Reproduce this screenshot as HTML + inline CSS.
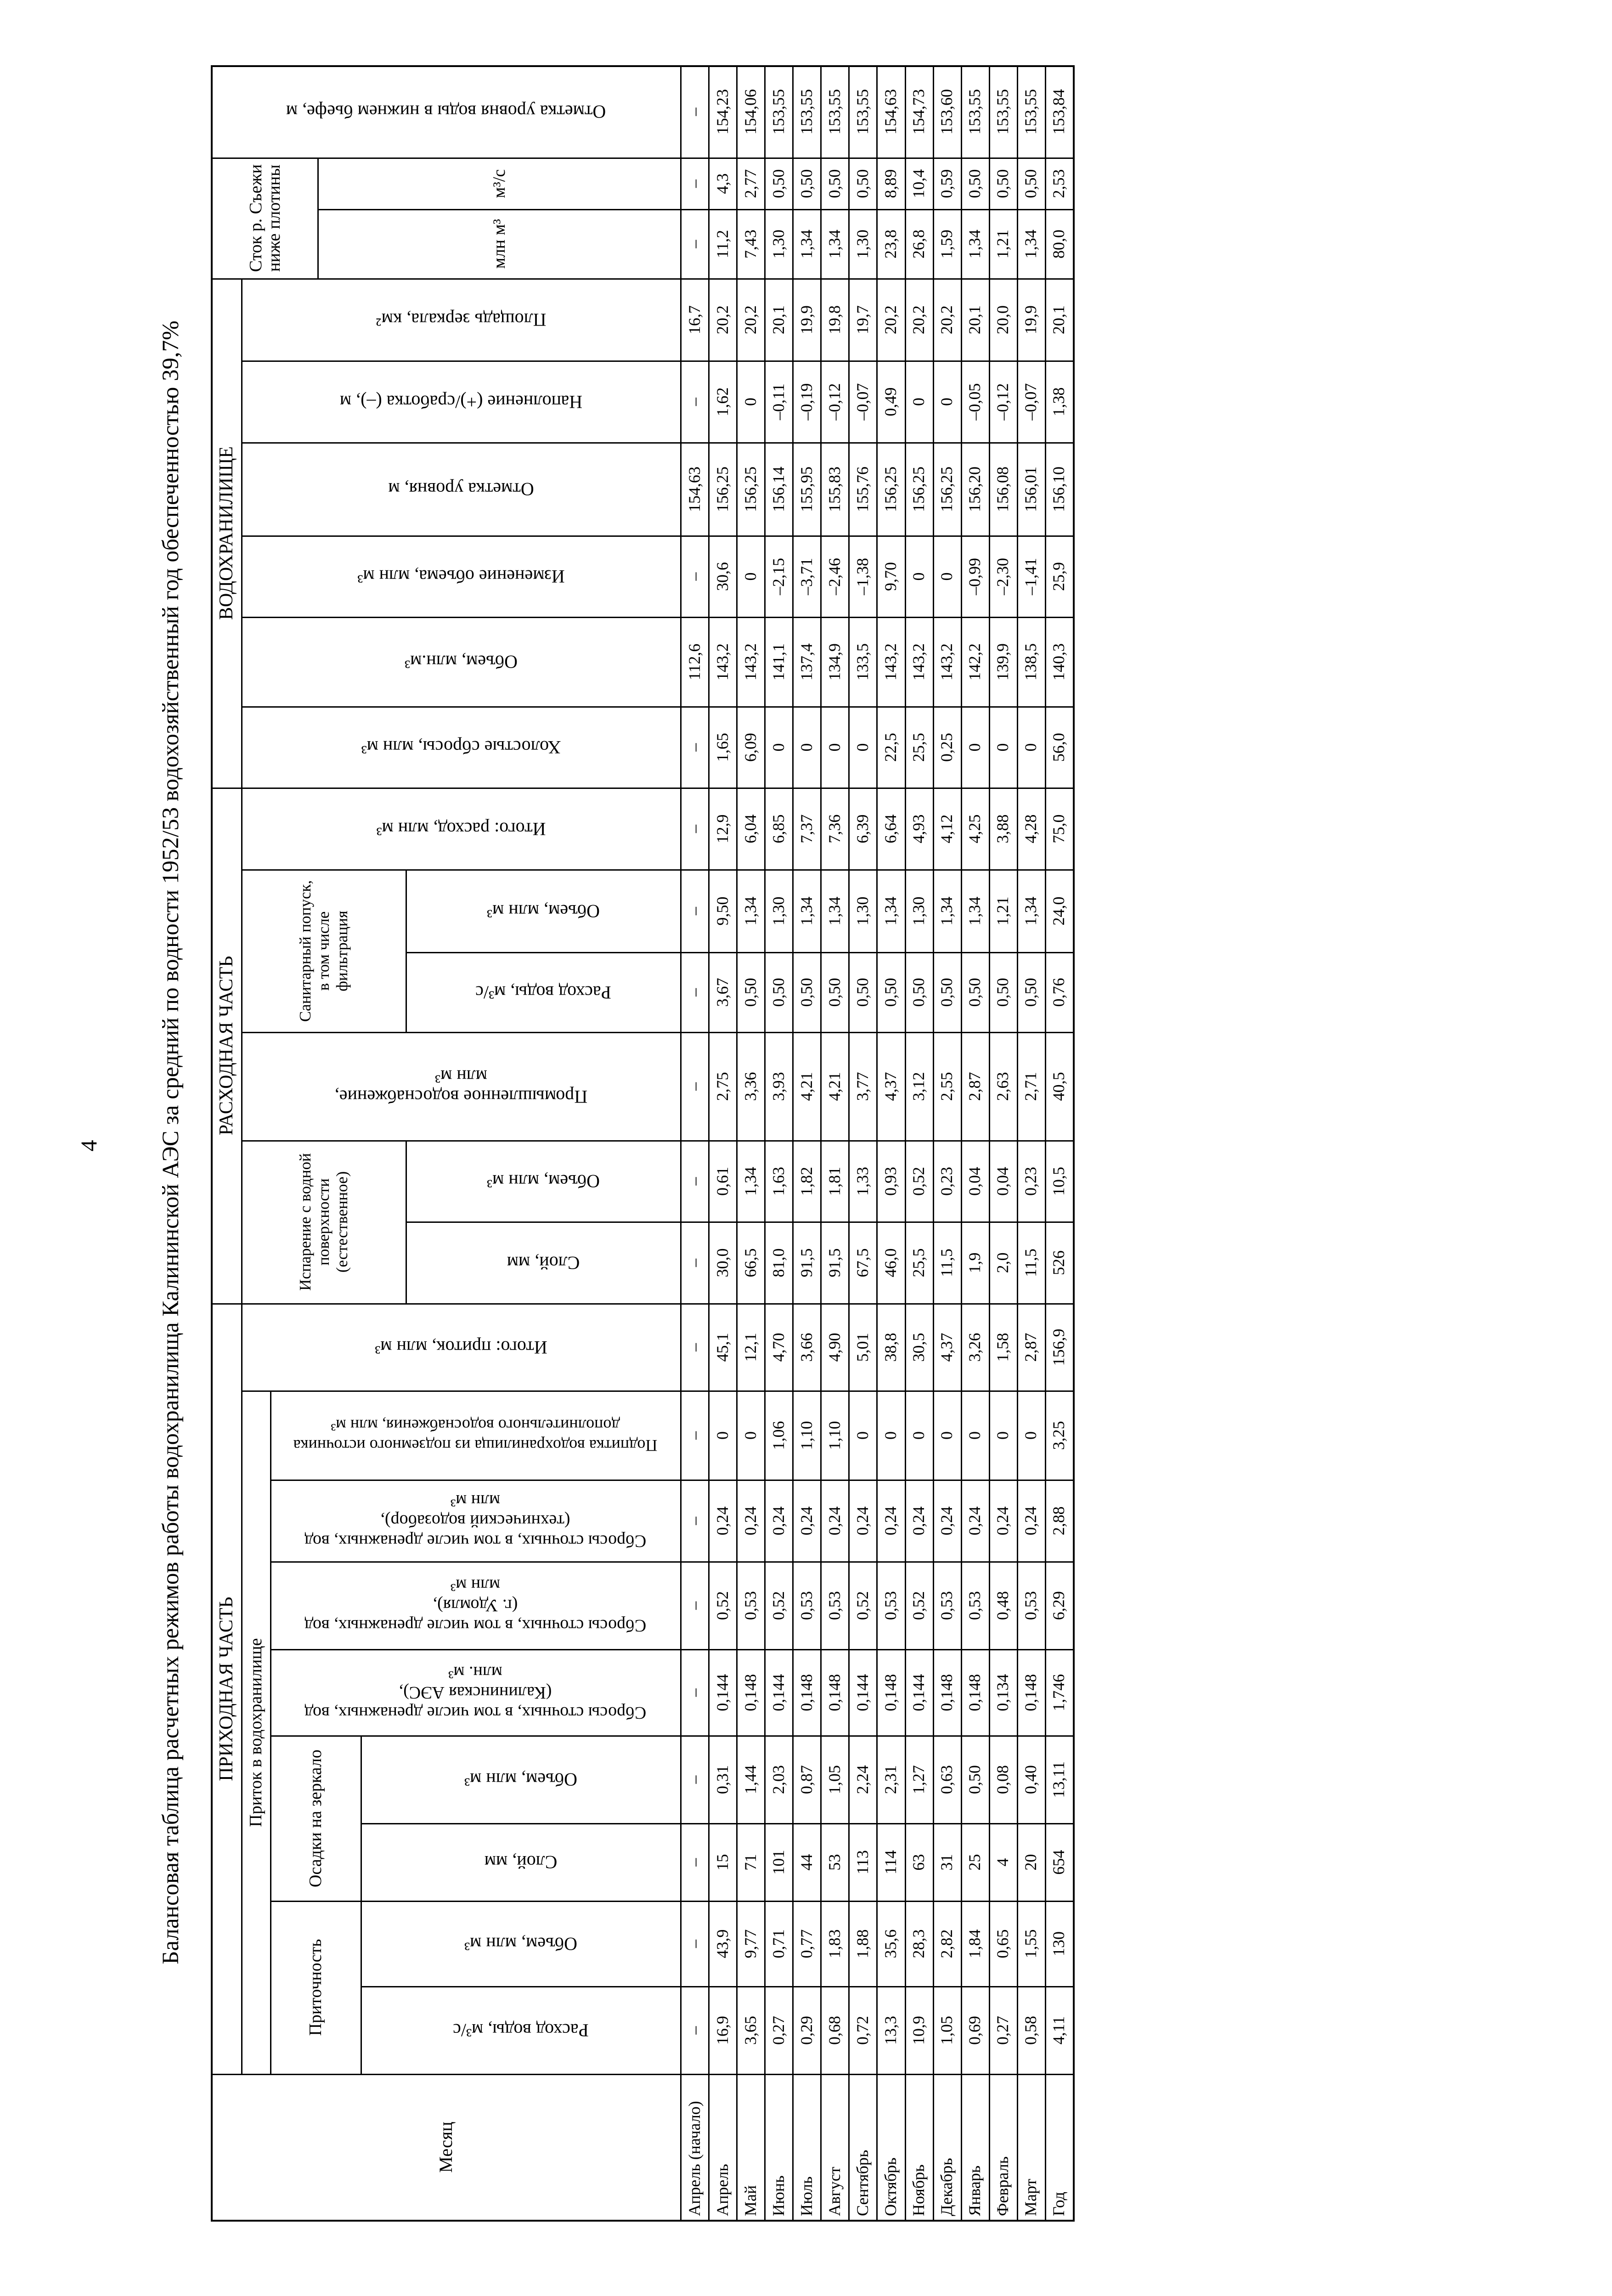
<!DOCTYPE html>
<html><head><meta charset="utf-8">
<style>
html,body{margin:0;padding:0;background:#fff;}
body{width:3510px;height:5049px;position:relative;overflow:hidden;font-family:"Liberation Serif","DejaVu Serif",serif;color:#000;}
.h{position:absolute;height:3px;background:#000;}
.v{position:absolute;width:3px;background:#000;}
.t{position:absolute;white-space:nowrap;font-size:35px;line-height:40px;text-align:center;transform:translate(-50%,-50%) rotate(-90deg);}
.u{position:absolute;white-space:nowrap;font-size:40px;line-height:44px;text-align:center;transform:translate(-50%,-50%) rotate(180deg);}
.g{font-size:42px;}
.row{position:absolute;width:4693px;height:61px;top:2459px;transform:rotate(-90deg);font-size:36px;line-height:61px;white-space:nowrap;}
.row span{display:inline-block;text-align:center;height:61px;vertical-align:top;}
.row span:nth-child(1){width:319px;text-align:left;padding-left:10px;box-sizing:border-box}
.row span:nth-child(2){width:191px}.row span:nth-child(3){width:186px}.row span:nth-child(4){width:169px}
.row span:nth-child(5){width:191px}.row span:nth-child(6){width:188px}.row span:nth-child(7){width:191px}
.row span:nth-child(8){width:178px}.row span:nth-child(9){width:194px}.row span:nth-child(10){width:190px}
.row span:nth-child(11){width:178px}.row span:nth-child(12){width:177px}.row span:nth-child(13){width:236px}
.row span:nth-child(14){width:174px}.row span:nth-child(15){width:180px}.row span:nth-child(16){width:178px}
.row span:nth-child(17){width:177px}.row span:nth-child(18){width:195px}.row span:nth-child(19){width:177px}
.row span:nth-child(20){width:203px}.row span:nth-child(21){width:178px}.row span:nth-child(22){width:179px}
.row span:nth-child(23){width:151px}.row span:nth-child(24){width:112px}.row span:nth-child(25){width:201px}
</style></head><body>

<div class="t" style="left:193px;top:2495px;font-size:50px;line-height:52px;">4</div>
<div class="t" style="left:372px;top:2488px;font-size:51px;line-height:54px;">Балансовая таблица расчетных режимов работы водохранилища Калининской АЭС за средний по водности 1952/53 водохозяйственный год обеспеченностью 39,7%</div>

<!-- outer -->
<div class="h" style="left:460px;top:142px;width:1880px;height:4px"></div>
<div class="h" style="left:460px;top:4834px;width:1880px;height:4px"></div>
<div class="v" style="left:459px;top:142px;height:4696px;width:4px"></div>
<div class="v" style="left:2336px;top:142px;height:4696px;width:4px"></div>

<!-- vertical lines (constant x) -->
<div class="v" style="left:1481px;top:143px;height:4694px"></div>
<div class="v" style="left:1542px;top:143px;height:4694px"></div>
<div class="v" style="left:1603px;top:143px;height:4694px"></div>
<div class="v" style="left:1664px;top:143px;height:4694px"></div>
<div class="v" style="left:1725px;top:143px;height:4694px"></div>
<div class="v" style="left:1786px;top:143px;height:4694px"></div>
<div class="v" style="left:1847px;top:143px;height:4694px"></div>
<div class="v" style="left:1908px;top:143px;height:4694px"></div>
<div class="v" style="left:1970px;top:143px;height:4694px"></div>
<div class="v" style="left:2031px;top:143px;height:4694px"></div>
<div class="v" style="left:2092px;top:143px;height:4694px"></div>
<div class="v" style="left:2153px;top:143px;height:4694px"></div>
<div class="v" style="left:2214px;top:143px;height:4694px"></div>
<div class="v" style="left:2275px;top:143px;height:4694px"></div>
<div class="v" style="left:525px;top:607px;height:3911px"></div>
<div class="v" style="left:588px;top:3029px;height:1489px"></div>
<div class="v" style="left:785px;top:3780px;height:738px"></div>
<div class="v" style="left:883px;top:1894px;height:355px"></div>
<div class="v" style="left:883px;top:2484px;height:356px"></div>
<div class="v" style="left:691px;top:344px;height:264px"></div>

<!-- horizontal lines (constant y) -->
<div class="h" style="left:460px;top:343px;width:1878px"></div>
<div class="h" style="left:691px;top:455px;width:1647px"></div>
<div class="h" style="left:460px;top:606px;width:1878px"></div>
<div class="h" style="left:525px;top:785px;width:1813px"></div>
<div class="h" style="left:525px;top:963px;width:1813px"></div>
<div class="h" style="left:525px;top:1166px;width:1813px"></div>
<div class="h" style="left:525px;top:1343px;width:1813px"></div>
<div class="h" style="left:525px;top:1538px;width:1813px"></div>
<div class="h" style="left:460px;top:1715px;width:1878px"></div>
<div class="h" style="left:525px;top:1893px;width:1813px"></div>
<div class="h" style="left:883px;top:2073px;width:1455px"></div>
<div class="h" style="left:525px;top:2247px;width:1813px"></div>
<div class="h" style="left:525px;top:2483px;width:1813px"></div>
<div class="h" style="left:883px;top:2660px;width:1455px"></div>
<div class="h" style="left:460px;top:2838px;width:1878px"></div>
<div class="h" style="left:525px;top:3028px;width:1813px"></div>
<div class="h" style="left:588px;top:3222px;width:1750px"></div>
<div class="h" style="left:588px;top:3400px;width:1750px"></div>
<div class="h" style="left:588px;top:3591px;width:1750px"></div>
<div class="h" style="left:588px;top:3779px;width:1750px"></div>
<div class="h" style="left:785px;top:3970px;width:1553px"></div>
<div class="h" style="left:588px;top:4139px;width:1750px"></div>
<div class="h" style="left:785px;top:4325px;width:1553px"></div>
<div class="h" style="left:460px;top:4516px;width:1878px"></div>

<!-- group labels -->
<div class="t g" style="left:493px;top:1161px">ВОДОХРАНИЛИЩЕ</div>
<div class="t g" style="left:493px;top:2277px">РАСХОДНАЯ ЧАСТЬ</div>
<div class="t g" style="left:493px;top:3678px">ПРИХОДНАЯ ЧАСТЬ</div>
<div class="t" style="left:705px;top:2071px">Санитарный попуск,<br>в том числе<br>фильтрация</div>
<div class="t" style="left:705px;top:2661px">Испарение с водной<br>поверхности<br>(естественное)</div>
<div class="t" style="left:557px;top:3773px;font-size:38px">Приток в водохранилище</div>
<div class="t" style="left:687px;top:3960px;font-size:38px">Осадки на зеркало</div>
<div class="t" style="left:687px;top:4328px;font-size:38px">Приточность</div>
<div class="t" style="left:971px;top:4676px;font-size:40px">Месяц</div>
<div class="t" style="left:577px;top:475px;font-size:38px">Сток р. Съежи<br>ниже плотины</div>
<div class="t" style="left:1087px;top:400px;font-size:38px">м³/с</div>
<div class="t" style="left:1087px;top:531px;font-size:38px">млн м³</div>

<!-- leaf headers (upside-down) -->
<div class="u" style="left:971px;top:243px">Отметка уровня воды в нижнем бьефе, м</div>
<div class="u" style="left:1004px;top:696px">Площадь зеркала, км²</div>
<div class="u" style="left:1004px;top:875px">Наполнение (+)/сработка (–), м</div>
<div class="u" style="left:1004px;top:1065px">Отметка уровня, м</div>
<div class="u" style="left:1004px;top:1255px">Изменение объема, млн м³</div>
<div class="u" style="left:1004px;top:1441px">Объем, млн.м³</div>
<div class="u" style="left:1004px;top:1627px">Холостые сбросы, млн м³</div>
<div class="u" style="left:1004px;top:1805px">Итого: расход, млн м³</div>
<div class="u" style="left:1183px;top:1984px">Объем, млн м³</div>
<div class="u" style="left:1183px;top:2161px">Расход воды, м³/с</div>
<div class="u" style="left:1004px;top:2366px">Промышленное водоснабжение,<br>млн м³</div>
<div class="u" style="left:1183px;top:2572px">Объем, млн м³</div>
<div class="u" style="left:1183px;top:2750px">Слой, мм</div>
<div class="u" style="left:1004px;top:2934px">Итого: приток, млн м³</div>
<div class="u" style="left:1035px;top:3126px;font-size:36px">Подпитка водохранилища из подземного источника<br>дополнительного водоснабжения, млн м³</div>
<div class="u" style="left:1035px;top:3312px;font-size:38px">Сбросы сточных, в том числе дренажных, вод<br>(технический водозабор),<br>млн м³</div>
<div class="u" style="left:1035px;top:3496px;font-size:38px">Сбросы сточных, в том числе дренажных, вод<br>(г. Удомля),<br>млн м³</div>
<div class="u" style="left:1035px;top:3686px;font-size:38px">Сбросы сточных, в том числе дренажных, вод<br>(Калининская АЭС),<br>млн. м³</div>
<div class="u" style="left:1134px;top:3875px">Объем, млн м³</div>
<div class="u" style="left:1134px;top:4055px">Слой, мм</div>
<div class="u" style="left:1134px;top:4233px">Объем, млн м³</div>
<div class="u" style="left:1134px;top:4421px">Расход воды, м³/с</div>

<!-- data rows: order = month, c24..c1 -->
<div class="row" style="left:-834px"><span>Апрель (начало)</span><span>–</span><span>–</span><span>–</span><span>–</span><span>–</span><span>–</span><span>–</span><span>–</span><span>–</span><span>–</span><span>–</span><span>–</span><span>–</span><span>–</span><span>–</span><span>–</span><span>112,6</span><span>–</span><span>154,63</span><span>–</span><span>16,7</span><span>–</span><span>–</span><span>–</span></div>
<div class="row" style="left:-773px"><span>Апрель</span><span>16,9</span><span>43,9</span><span>15</span><span>0,31</span><span>0,144</span><span>0,52</span><span>0,24</span><span>0</span><span>45,1</span><span>30,0</span><span>0,61</span><span>2,75</span><span>3,67</span><span>9,50</span><span>12,9</span><span>1,65</span><span>143,2</span><span>30,6</span><span>156,25</span><span>1,62</span><span>20,2</span><span>11,2</span><span>4,3</span><span>154,23</span></div>
<div class="row" style="left:-712px"><span>Май</span><span>3,65</span><span>9,77</span><span>71</span><span>1,44</span><span>0,148</span><span>0,53</span><span>0,24</span><span>0</span><span>12,1</span><span>66,5</span><span>1,34</span><span>3,36</span><span>0,50</span><span>1,34</span><span>6,04</span><span>6,09</span><span>143,2</span><span>0</span><span>156,25</span><span>0</span><span>20,2</span><span>7,43</span><span>2,77</span><span>154,06</span></div>
<div class="row" style="left:-651px"><span>Июнь</span><span>0,27</span><span>0,71</span><span>101</span><span>2,03</span><span>0,144</span><span>0,52</span><span>0,24</span><span>1,06</span><span>4,70</span><span>81,0</span><span>1,63</span><span>3,93</span><span>0,50</span><span>1,30</span><span>6,85</span><span>0</span><span>141,1</span><span>–2,15</span><span>156,14</span><span>–0,11</span><span>20,1</span><span>1,30</span><span>0,50</span><span>153,55</span></div>
<div class="row" style="left:-590px"><span>Июль</span><span>0,29</span><span>0,77</span><span>44</span><span>0,87</span><span>0,148</span><span>0,53</span><span>0,24</span><span>1,10</span><span>3,66</span><span>91,5</span><span>1,82</span><span>4,21</span><span>0,50</span><span>1,34</span><span>7,37</span><span>0</span><span>137,4</span><span>–3,71</span><span>155,95</span><span>–0,19</span><span>19,9</span><span>1,34</span><span>0,50</span><span>153,55</span></div>
<div class="row" style="left:-529px"><span>Август</span><span>0,68</span><span>1,83</span><span>53</span><span>1,05</span><span>0,148</span><span>0,53</span><span>0,24</span><span>1,10</span><span>4,90</span><span>91,5</span><span>1,81</span><span>4,21</span><span>0,50</span><span>1,34</span><span>7,36</span><span>0</span><span>134,9</span><span>–2,46</span><span>155,83</span><span>–0,12</span><span>19,8</span><span>1,34</span><span>0,50</span><span>153,55</span></div>
<div class="row" style="left:-468px"><span>Сентябрь</span><span>0,72</span><span>1,88</span><span>113</span><span>2,24</span><span>0,144</span><span>0,52</span><span>0,24</span><span>0</span><span>5,01</span><span>67,5</span><span>1,33</span><span>3,77</span><span>0,50</span><span>1,30</span><span>6,39</span><span>0</span><span>133,5</span><span>–1,38</span><span>155,76</span><span>–0,07</span><span>19,7</span><span>1,30</span><span>0,50</span><span>153,55</span></div>
<div class="row" style="left:-407px"><span>Октябрь</span><span>13,3</span><span>35,6</span><span>114</span><span>2,31</span><span>0,148</span><span>0,53</span><span>0,24</span><span>0</span><span>38,8</span><span>46,0</span><span>0,93</span><span>4,37</span><span>0,50</span><span>1,34</span><span>6,64</span><span>22,5</span><span>143,2</span><span>9,70</span><span>156,25</span><span>0,49</span><span>20,2</span><span>23,8</span><span>8,89</span><span>154,63</span></div>
<div class="row" style="left:-346px"><span>Ноябрь</span><span>10,9</span><span>28,3</span><span>63</span><span>1,27</span><span>0,144</span><span>0,52</span><span>0,24</span><span>0</span><span>30,5</span><span>25,5</span><span>0,52</span><span>3,12</span><span>0,50</span><span>1,30</span><span>4,93</span><span>25,5</span><span>143,2</span><span>0</span><span>156,25</span><span>0</span><span>20,2</span><span>26,8</span><span>10,4</span><span>154,73</span></div>
<div class="row" style="left:-285px"><span>Декабрь</span><span>1,05</span><span>2,82</span><span>31</span><span>0,63</span><span>0,148</span><span>0,53</span><span>0,24</span><span>0</span><span>4,37</span><span>11,5</span><span>0,23</span><span>2,55</span><span>0,50</span><span>1,34</span><span>4,12</span><span>0,25</span><span>143,2</span><span>0</span><span>156,25</span><span>0</span><span>20,2</span><span>1,59</span><span>0,59</span><span>153,60</span></div>
<div class="row" style="left:-224px"><span>Январь</span><span>0,69</span><span>1,84</span><span>25</span><span>0,50</span><span>0,148</span><span>0,53</span><span>0,24</span><span>0</span><span>3,26</span><span>1,9</span><span>0,04</span><span>2,87</span><span>0,50</span><span>1,34</span><span>4,25</span><span>0</span><span>142,2</span><span>–0,99</span><span>156,20</span><span>–0,05</span><span>20,1</span><span>1,34</span><span>0,50</span><span>153,55</span></div>
<div class="row" style="left:-163px"><span>Февраль</span><span>0,27</span><span>0,65</span><span>4</span><span>0,08</span><span>0,134</span><span>0,48</span><span>0,24</span><span>0</span><span>1,58</span><span>2,0</span><span>0,04</span><span>2,63</span><span>0,50</span><span>1,21</span><span>3,88</span><span>0</span><span>139,9</span><span>–2,30</span><span>156,08</span><span>–0,12</span><span>20,0</span><span>1,21</span><span>0,50</span><span>153,55</span></div>
<div class="row" style="left:-102px"><span>Март</span><span>0,58</span><span>1,55</span><span>20</span><span>0,40</span><span>0,148</span><span>0,53</span><span>0,24</span><span>0</span><span>2,87</span><span>11,5</span><span>0,23</span><span>2,71</span><span>0,50</span><span>1,34</span><span>4,28</span><span>0</span><span>138,5</span><span>–1,41</span><span>156,01</span><span>–0,07</span><span>19,9</span><span>1,34</span><span>0,50</span><span>153,55</span></div>
<div class="row" style="left:-41px"><span>Год</span><span>4,11</span><span>130</span><span>654</span><span>13,11</span><span>1,746</span><span>6,29</span><span>2,88</span><span>3,25</span><span>156,9</span><span>526</span><span>10,5</span><span>40,5</span><span>0,76</span><span>24,0</span><span>75,0</span><span>56,0</span><span>140,3</span><span>25,9</span><span>156,10</span><span>1,38</span><span>20,1</span><span>80,0</span><span>2,53</span><span>153,84</span></div>

</body></html>
